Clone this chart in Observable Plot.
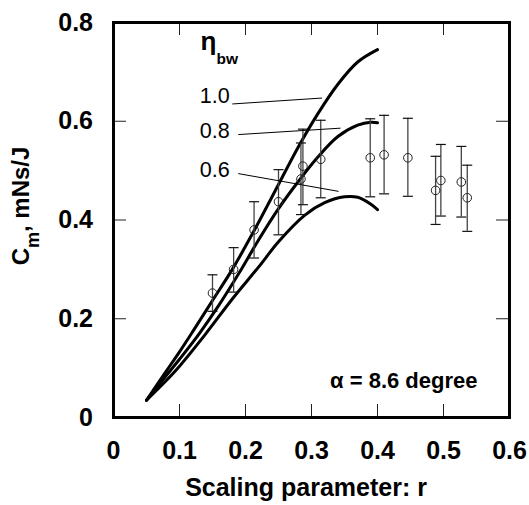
<!DOCTYPE html>
<html>
<head>
<meta charset="utf-8">
<script src="https://cdn.jsdelivr.net/npm/d3@7"></script>
<script src="https://cdn.jsdelivr.net/npm/@observablehq/plot@0.6"></script>
<style>
  html, body { margin: 0; padding: 0; background: #fff; }
  #chart { width: 529px; height: 505px; }
</style>
</head>
<body>
<div id="chart"></div>
<script>
// ---- measured data (scaling parameter r, Cm in mNs/J) ----
const pointR = [0.150, 0.182, 0.213, 0.250, 0.284, 0.287, 0.314, 0.389, 0.410, 0.446, 0.488, 0.496, 0.527, 0.536];
const pointV = [0.252, 0.300, 0.380, 0.437, 0.483, 0.509, 0.523, 0.526, 0.532, 0.526, 0.460, 0.480, 0.477, 0.445];
const errHi  = [0.289, 0.344, 0.437, 0.502, 0.556, 0.584, 0.602, 0.605, 0.612, 0.606, 0.529, 0.553, 0.549, 0.511];
const errLo  = [0.215, 0.254, 0.323, 0.370, 0.411, 0.431, 0.445, 0.447, 0.453, 0.448, 0.391, 0.408, 0.406, 0.377];

// ---- model curves for eta_bw = 1.0, 0.8, 0.6 ----
const curve10R = [0.05, 0.08, 0.10, 0.12, 0.15, 0.18, 0.21, 0.25, 0.28, 0.31, 0.34, 0.37, 0.40];
const curve10V = [0.035, 0.094, 0.133, 0.174, 0.237, 0.300, 0.371, 0.472, 0.548, 0.616, 0.675, 0.720, 0.745];
const curve08R = [0.05, 0.08, 0.10, 0.13, 0.16, 0.19, 0.22, 0.25, 0.28, 0.31, 0.34, 0.37, 0.39, 0.40];
const curve08V = [0.035, 0.085, 0.118, 0.170, 0.228, 0.292, 0.360, 0.423, 0.478, 0.528, 0.569, 0.592, 0.598, 0.597];
const curve06R = [0.05, 0.08, 0.10, 0.14, 0.18, 0.22, 0.25, 0.29, 0.32, 0.35, 0.37, 0.39, 0.40];
const curve06V = [0.035, 0.075, 0.104, 0.170, 0.240, 0.305, 0.356, 0.410, 0.435, 0.447, 0.446, 0.432, 0.421];

// ---- curve labels and their leader lines (data coordinates) ----
const etaNames   = ["1.0", "0.8", "0.6"];
const etaLabelR  = [0.176, 0.176, 0.176];
const etaLabelV  = [0.637, 0.566, 0.487];
const leaderR1   = [0.180, 0.189, 0.189];
const leaderV1   = [0.635, 0.573, 0.494];
const leaderR2   = [0.316, 0.344, 0.341];
const leaderV2   = [0.647, 0.586, 0.458];

// ---- text ----
const etaSymbol = "η";
const etaSub = "bw";
const etaSymbolAt = [0.132, 0.744];
const etaSubAt = [0.156, 0.716];
const noteText = "α = 8.6 degree";
const noteAt = [0.5515, 0.060];
const xTitle = "Scaling parameter: r";
const yTitleMain = "C";
const yTitleSub = "m";
const yTitleRest = ", mNs/J";

// ---- ticks ----
const xTicks = [0, 0.1, 0.2, 0.3, 0.4, 0.5, 0.6];
const yTicks = [0, 0.2, 0.4, 0.6, 0.8];
const xInner = [0.1, 0.2, 0.3, 0.4, 0.5];
const yInner = [0.2, 0.4, 0.6];

// ---- tables built from the arrays ----
const points = pointR.map((r, i) => ({r, v: pointV[i], hi: errHi[i], lo: errLo[i]}));
const curves = [
  ...curve10R.map((r, i) => ({eta: "1.0", r, v: curve10V[i]})),
  ...curve08R.map((r, i) => ({eta: "0.8", r, v: curve08V[i]})),
  ...curve06R.map((r, i) => ({eta: "0.6", r, v: curve06V[i]}))
];
const labels = etaNames.map((t, i) => ({t, r: etaLabelR[i], v: etaLabelV[i]}));
const leaders = etaNames.map((t, i) => ({r1: leaderR1[i], v1: leaderV1[i], r2: leaderR2[i], v2: leaderV2[i]}));

// ---- layout ----
const W = 529, H = 505, ML = 113, MR = 20, MT = 22, MB = 88;
const PW = W - ML - MR, PH = H - MT - MB;
const TICK = 13;
const FONT = "'Liberation Sans', Arial, Helvetica, sans-serif";
const YTITLE_FULL = yTitleMain + yTitleSub + yTitleRest;

const capSymbol = {draw(ctx) { ctx.moveTo(-5, 0); ctx.lineTo(5, 0); }};
const fmt = d => String(d);

const chart = Plot.plot({
  width: W, height: H,
  marginLeft: ML, marginRight: MR, marginTop: MT, marginBottom: MB,
  x: {domain: [0, 0.6]},
  y: {domain: [0, 0.8]},
  style: {fontFamily: FONT, background: "white", overflow: "visible", color: "black"},
  marks: [
    // axes: labels only
    Plot.axisX(xTicks, {tickSize: 0, tickPadding: 24, tickFormat: fmt, fontSize: 25, fontWeight: "bold", label: null, fill: "black"}),
    Plot.axisY(yTicks, {tickSize: 0, tickPadding: 20.5, tickFormat: fmt, fontSize: 25, fontWeight: "bold", label: null, fill: "black"}),
    // inward ticks on all four sides
    Plot.tickX(xInner, {x: d => d, insetTop: PH - TICK, stroke: "#222", strokeWidth: 1}),
    Plot.tickX(xInner, {x: d => d, insetBottom: PH - TICK, stroke: "#222", strokeWidth: 1}),
    Plot.tickY(yInner, {y: d => d, insetRight: PW - TICK, stroke: "#222", strokeWidth: 1}),
    Plot.tickY(yInner, {y: d => d, insetLeft: PW - TICK, stroke: "#222", strokeWidth: 1}),
    // model curves
    Plot.line(curves, {x: "r", y: "v", z: "eta", stroke: "black", strokeWidth: 3, curve: "catmull-rom", strokeLinejoin: "round", strokeLinecap: "round"}),
    // error bars
    Plot.ruleX(points, {x: "r", y1: "lo", y2: "hi", stroke: "#444", strokeWidth: 1.3}),
    Plot.dot(points, {x: "r", y: "hi", symbol: capSymbol, stroke: "#111", fill: "none", strokeWidth: 1.2}),
    Plot.dot(points, {x: "r", y: "lo", symbol: capSymbol, stroke: "#111", fill: "none", strokeWidth: 1.2}),
    // data points
    Plot.dot(points, {x: "r", y: "v", r: 4.3, stroke: "#222", fill: "none", strokeWidth: 1}),
    // leader lines & labels
    Plot.link(leaders, {x1: "r1", y1: "v1", x2: "r2", y2: "v2", stroke: "black", strokeWidth: 1}),
    Plot.text(labels, {x: "r", y: "v", text: "t", textAnchor: "end", lineAnchor: "bottom", fontSize: 21.5, fill: "black"}),
    Plot.text([etaSymbol], {x: () => etaSymbolAt[0], y: () => etaSymbolAt[1], text: d => d, textAnchor: "start", lineAnchor: "bottom", fontSize: 26, fontWeight: "bold", fill: "black"}),
    Plot.text([etaSub], {x: () => etaSubAt[0], y: () => etaSubAt[1], text: d => d, textAnchor: "start", lineAnchor: "bottom", fontSize: 15.5, fontWeight: "bold", fill: "black"}),
    Plot.text([noteText], {x: () => noteAt[0], y: () => noteAt[1], text: d => d, textAnchor: "end", lineAnchor: "bottom", fontSize: 22, fontWeight: "bold", fill: "black"}),
    // axis titles
    Plot.text([xTitle], {frameAnchor: "bottom", text: d => d, lineAnchor: "bottom", dy: 78, dx: -5.5, fontSize: 25, fontWeight: "bold", fill: "black"}),
    Plot.text([YTITLE_FULL], {frameAnchor: "left", text: d => d, rotate: -90, lineAnchor: "bottom", textAnchor: "middle", dx: -84.5, dy: -14, fontSize: 24, fontWeight: "bold", fill: "black"}),
    // frame
    Plot.frame({stroke: "black", strokeWidth: 3})
  ]
});

document.getElementById("chart").appendChild(chart);

// y-axis title: rebuild with a subscript
const ns = "http://www.w3.org/2000/svg";
for (const el of chart.querySelectorAll("text")) {
  if (el.textContent === YTITLE_FULL) {
    el.textContent = "";
    const t1 = document.createElementNS(ns, "tspan"); t1.textContent = yTitleMain;
    const t2 = document.createElementNS(ns, "tspan"); t2.textContent = yTitleSub;
    t2.setAttribute("font-size", "18"); t2.setAttribute("dy", "10");
    const t3 = document.createElementNS(ns, "tspan"); t3.textContent = yTitleRest;
    t3.setAttribute("dy", "-10");
    el.append(t1, t2, t3);
  }
}
</script>
</body>
</html>
